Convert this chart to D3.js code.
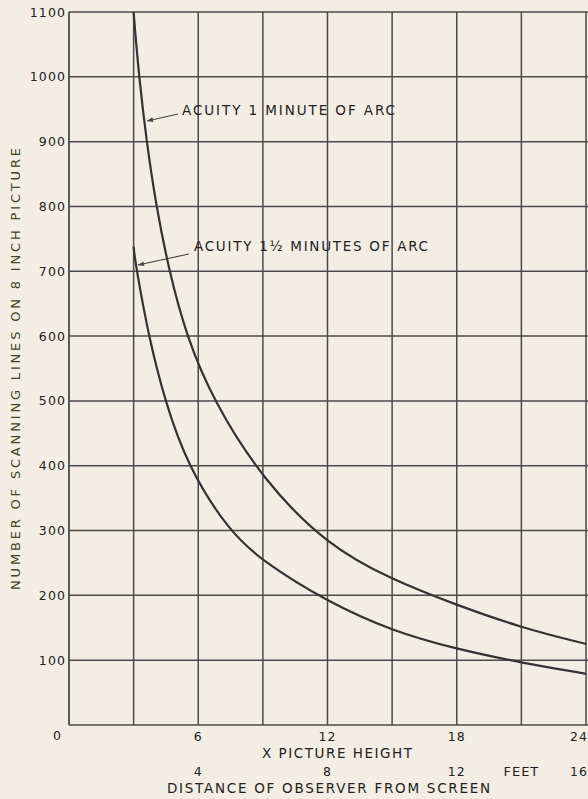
<!DOCTYPE html>
<html>
<head>
<meta charset="utf-8">
<script src="https://cdn.jsdelivr.net/npm/d3@7/dist/d3.min.js"></script>
<style>
  html, body { margin: 0; padding: 0; background: #f3eee3; }
  svg { display: block; }
  text { font-family: "DejaVu Sans", sans-serif; fill: #222; }
</style>
</head>
<body>
<svg id="chart" width="588" height="799"></svg>
<script>
// ---- data ----
const xTicks = [0, 6, 12, 18, 24];            // picture heights (labelled)
const xGrid = [0, 3, 6, 9, 12, 15, 18, 21, 24];
const feetTicks = [4, 8, 12, 16];
const yTicks = [0, 100, 200, 300, 400, 500, 600, 700, 800, 900, 1000, 1100];

// Acuity 1 minute of arc
const acuity1X = [3.0, 3.02, 3.25, 3.6, 4.05, 4.65, 5.45, 6.7, 9, 12, 15, 18, 21, 24, 24.01];
const acuity1Y = [1100, 1090, 1000, 900, 800, 700, 600, 500, 378, 277, 224, 185, 150, 125, 125];
// Acuity 1 1/2 minutes of arc
const acuity15X = [3.0, 3.02, 3.2, 3.7, 4.45, 5.5, 7.4, 9, 12, 15, 18, 21, 24, 24.01];
const acuity15Y = [738, 730, 690, 600, 500, 400, 300, 252, 190, 145, 117, 96, 79, 79];

const svg = d3.select("#chart");
const x = d3.scaleLinear().domain([0, 24]).range([69, 586]);
const feet = d3.scaleLinear().domain([0, 16]).range([69, 586]);
const y = d3.scaleLinear().domain([0, 1100]).range([725, 12]);

const gridColor = "#4a4a4a";

// horizontal grid
svg.append("g").selectAll("line").data(yTicks).join("line")
  .attr("x1", x(0)).attr("x2", 588)
  .attr("y1", d => y(d)).attr("y2", d => y(d))
  .attr("stroke", gridColor).attr("stroke-width", 1.5);

// vertical grid
svg.append("g").selectAll("line").data(xGrid).join("line")
  .attr("x1", d => x(d)).attr("x2", d => x(d))
  .attr("y1", y(0)).attr("y2", y(1100))
  .attr("stroke", gridColor).attr("stroke-width", d => d === 0 ? 1.8 : 1.5);

// y tick labels
svg.append("g").selectAll("text").data(yTicks.filter(d => d > 0)).join("text")
  .attr("x", 66).attr("y", d => y(d) + 4.5)
  .attr("text-anchor", "end")
  .attr("font-size", 12.5).attr("letter-spacing", 1.1)
  .text(d => d);

// zero label
svg.append("text").attr("x", 57).attr("y", 740)
  .attr("text-anchor", "middle").attr("font-size", 12.5).text("0");

// x tick labels (picture heights)
svg.append("g").selectAll("text").data(xTicks.filter(d => d > 0)).join("text")
  .attr("x", d => d === 24 ? 588 : x(d))
  .attr("y", 741)
  .attr("text-anchor", d => d === 24 ? "end" : "middle")
  .attr("font-size", 12.5).attr("letter-spacing", 1.1)
  .text(d => d);

svg.append("text").attr("x", 262).attr("y", 758)
  .attr("font-size", 13.5).attr("textLength", 150).attr("lengthAdjust", "spacing")
  .text("X PICTURE HEIGHT");

// feet labels
svg.append("g").selectAll("text").data(feetTicks).join("text")
  .attr("x", d => d === 16 ? 588 : feet(d))
  .attr("y", 776)
  .attr("text-anchor", d => d === 16 ? "end" : "middle")
  .attr("font-size", 12.5).attr("letter-spacing", 1.1)
  .text(d => d);
svg.append("text").attr("x", feet(14)).attr("y", 776)
  .attr("text-anchor", "middle").attr("font-size", 13).attr("letter-spacing", 1)
  .text("FEET");

svg.append("text").attr("x", 167).attr("y", 793)
  .attr("font-size", 13.5).attr("textLength", 323).attr("lengthAdjust", "spacing")
  .text("DISTANCE OF OBSERVER FROM SCREEN");

// y axis title
svg.append("text")
  .attr("transform", "translate(20,590) rotate(-90)")
  .attr("font-size", 13).attr("textLength", 442).attr("lengthAdjust", "spacing")
  .style("fill", "#3b4824")
  .text("NUMBER OF SCANNING LINES ON 8 INCH PICTURE");

// curves
const line = d3.line().x(d => x(d[0])).y(d => y(d[1])).curve(d3.curveBasis);
const s1 = acuity1X.map((v, i) => [v, acuity1Y[i]]);
const s2 = acuity15X.map((v, i) => [v, acuity15Y[i]]);
svg.append("path").datum(s1).attr("d", line)
  .attr("fill", "none").attr("stroke", "#333").attr("stroke-width", 2.2);
svg.append("path").datum(s2).attr("d", line)
  .attr("fill", "none").attr("stroke", "#333").attr("stroke-width", 2.2);

// annotations with arrows
const defs = svg.append("defs");
defs.append("marker").attr("id", "arr").attr("viewBox", "0 0 10 10")
  .attr("refX", 10).attr("refY", 5).attr("markerWidth", 9).attr("markerHeight", 6)
  .attr("orient", "auto").attr("markerUnits", "userSpaceOnUse")
  .append("path").attr("d", "M0,1 L10,5 L0,9 Z").attr("fill", "#444");

svg.append("line").attr("x1", 178).attr("y1", 114).attr("x2", 147).attr("y2", 121)
  .attr("stroke", "#444").attr("stroke-width", 1.2).attr("marker-end", "url(#arr)");
svg.append("text").attr("x", 182).attr("y", 115)
  .attr("font-size", 13.5).attr("textLength", 213).attr("lengthAdjust", "spacing")
  .text("ACUITY 1  MINUTE OF ARC");

svg.append("line").attr("x1", 189).attr("y1", 254).attr("x2", 138).attr("y2", 265)
  .attr("stroke", "#444").attr("stroke-width", 1.2).attr("marker-end", "url(#arr)");
svg.append("text").attr("x", 194).attr("y", 251)
  .attr("font-size", 13.5).attr("textLength", 234).attr("lengthAdjust", "spacing")
  .text("ACUITY 1½ MINUTES OF ARC");
</script>
</body>
</html>
